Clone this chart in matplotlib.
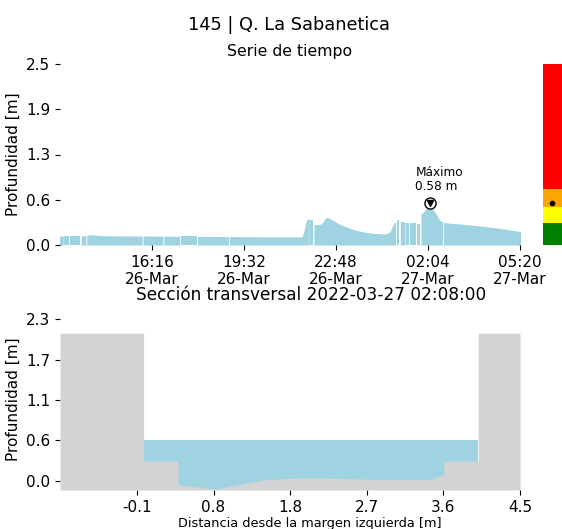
import numpy as np
import pandas as pd
import matplotlib
matplotlib.use("Agg")
import matplotlib.pyplot as plt
import matplotlib.dates as mdates

# ---------------- data ----------------
station_title = "145 | Q. La Sabanetica"
start_time = "2022-03-26 13:00"
step_minutes = 4

# water depth [m] every 4 minutes from 13:00 (26-Mar) to 05:20 (27-Mar); None = missing
depth = [
    0.12, 0.125, None, 0.125, 0.125, None, 0.125, 0.125, None, 0.125,
    0.125, None, 0.125, 0.13, None, 0.135, 0.14, 0.14, 0.14, 0.135,
    0.135, 0.13, 0.13, 0.13, 0.128, 0.128, 0.128, 0.127, 0.127, 0.127,
    0.126, 0.126, 0.126, 0.126, 0.125, 0.125, 0.125, 0.125, 0.125, 0.125,
    0.124, 0.124, 0.124, 0.124, None, 0.124, 0.124, 0.124, 0.124, 0.124,
    0.124, 0.124, 0.123, 0.123, 0.123, None, 0.122, 0.122, 0.122, 0.122,
    0.122, 0.121, 0.121, 0.121, None, 0.12, 0.12, 0.12, 0.12, 0.12,
    0.12, 0.12, 0.12, None, 0.119, 0.119, 0.119, 0.119, 0.118, 0.118,
    0.118, 0.118, 0.117, 0.117, 0.117, 0.117, 0.116, 0.116, 0.116, 0.116,
    None, 0.116, 0.116, 0.116, 0.116, 0.116, 0.116, 0.115, 0.115, 0.115,
    0.115, 0.115, 0.115, 0.115, 0.114, 0.114, 0.114, 0.114, 0.114, 0.114,
    0.114, 0.113, 0.113, 0.113, 0.113, 0.113, 0.113, 0.113, 0.112, 0.112,
    0.112, 0.112, 0.112, 0.112, 0.112, 0.112, 0.112, 0.112, 0.112, 0.115,
    0.2, 0.32, 0.36, None, 0.34, None, 0.28, 0.28, 0.285, 0.29,
    0.32, 0.36, 0.38, 0.375, 0.36, 0.345, 0.33, 0.315, 0.3, 0.285,
    0.275, 0.265, 0.255, 0.245, 0.235, 0.225, 0.218, 0.21, 0.203, 0.197,
    0.19, 0.185, 0.18, 0.176, 0.172, 0.168, 0.165, 0.162, 0.16, 0.158,
    0.156, 0.155, 0.154, 0.154, 0.16, 0.17, 0.19, 0.26, 0.31, None,
    0.34, None, 0.33, 0.32, None, 0.31, None, 0.31, None, 0.3,
    None, 0.29, None, 0.44, 0.47, 0.5, 0.55, 0.58, 0.54, 0.48,
    0.44, 0.4, 0.35, 0.33, None, 0.31, 0.305, 0.303, 0.3, 0.298,
    0.296, 0.294, 0.292, 0.29, 0.288, 0.285, 0.283, 0.28, 0.278, 0.275,
    0.272, 0.27, 0.267, 0.264, 0.261, 0.258, 0.255, 0.252, 0.249, 0.246,
    0.243, 0.24, 0.237, 0.234, 0.23, 0.226, 0.222, 0.218, 0.214, 0.21,
    0.206, 0.202, 0.198, 0.194, 0.19, 0.185,
]

ts_yticks = [0.0, 0.625, 1.25, 1.875, 2.5]
ts_yticklabels = ["0.0", "0.6", "1.3", "1.9", "2.5"]

# alert levels (colour bar)
level_bounds = [0.0, 0.31, 0.52, 0.78, 2.5]
level_colors = ["green", "yellow", "orange", "red"]

# cross-section bed profile
section_x = [-1.0, 0.0, 0.0, 0.41, 0.41, 0.86, 1.42, 1.84, 2.12, 2.91, 3.39, 3.59, 3.59, 4.0, 4.0, 4.5]
section_y = [2.1, 2.1, 0.28, 0.28, -0.06, -0.12, 0.01, 0.04, 0.04, 0.014, 0.014, 0.08, 0.28, 0.28, 2.1, 2.1]
water_x = [0.0, 4.0]

sec_xticks = [-0.08, 0.836, 1.752, 2.668, 3.584, 4.5]
sec_xticklabels = ["-0.1", "0.8", "1.8", "2.7", "3.6", "4.5"]
sec_yticks = [0.0, 0.575, 1.15, 1.725, 2.3]
sec_yticklabels = ["0.0", "0.6", "1.1", "1.7", "2.3"]

# ---------------- derived ----------------
n = len(depth)
times = pd.date_range(start_time, periods=n, freq=f"{step_minutes}min")
vals = np.array([np.nan if v is None else v for v in depth], dtype=float)
imax = int(np.nanargmax(vals))
tmax = times[imax]
vmax = vals[imax]

WATER = "#9fd3e1"
GRAY = "#d3d3d3"

fig = plt.figure(figsize=(5.62, 5.29), dpi=100)
W, H = 562, 529
ax1 = fig.add_axes([60 / W, 1 - 245 / H, 460 / W, 181 / H])
axc = fig.add_axes([542.5 / W, 1 - 245 / H, 19 / W, 181 / H])
ax2 = fig.add_axes([60 / W, 1 - 490 / H, 460 / W, 182 / H])

fig.text(289 / W, 1 - 25 / H, station_title, ha="center", va="center", fontsize=12.8)

# ---- time series (filled area, broken at missing samples) ----
tnum = mdates.date2num(times)
ext = 3.0 / 1440.0  # each segment reaches 3 min past its end samples
valid = ~np.isnan(vals)
i = 0
while i < n:
    if not valid[i]:
        i += 1
        continue
    j = i
    while j + 1 < n and valid[j + 1]:
        j += 1
    xs = np.concatenate([[tnum[i] - ext], tnum[i:j + 1], [tnum[j] + ext]])
    ys = np.concatenate([[vals[i]], vals[i:j + 1], [vals[j]]])
    ax1.fill_between(xs, 0, ys, color=WATER, linewidth=0)
    i = j + 1
ax1.set_xlim(tnum[0], tnum[-1])
ax1.set_ylim(0, 2.5)
ax1.set_yticks(ts_yticks)
ax1.set_yticklabels(ts_yticklabels)
xt = np.linspace(tnum[0], tnum[-1], 6)[1:]
ax1.set_xticks(xt)
ax1.set_xticklabels([mdates.num2date(t).strftime("%H:%M\n%d-%b") for t in xt])
ax1.set_ylabel("Profundidad [m]", fontsize=11)
ax1.set_title("Serie de tiempo", fontsize=11.3)
ax1.tick_params(labelsize=11)
for s in ax1.spines.values():
    s.set_visible(False)
ax1.plot([tnum[imax]], [vmax], marker="o", ms=8, mfc="white", mec="black", mew=1, zorder=5)
ax1.plot([tnum[imax]], [vmax], marker="v", ms=4.5, color="black", zorder=6)
ax1.annotate(f"Máximo\n{vmax:.2f} m", xy=(tnum[imax], vmax), xytext=(-10.5, 7),
             textcoords="offset points", ha="left", va="bottom", fontsize=8.7,
             linespacing=1.1)

# ---- colour bar of levels ----
for lo, hi, c in zip(level_bounds[:-1], level_bounds[1:], level_colors):
    axc.bar([0.5], [hi - lo], bottom=[lo], width=1.0, color=c, linewidth=0)
axc.plot([0.5], [vmax], "o", color="black", ms=3)
axc.set_xlim(0, 1)
axc.set_ylim(0, 2.5)
axc.axis("off")

# ---- cross section ----
ylo, yhi = -0.132, 2.46
ax2.fill_between(water_x, [ylo, ylo], [vmax, vmax], color=WATER, linewidth=0, zorder=1)
ax2.fill_between(section_x, ylo, section_y, color=GRAY, linewidth=0, zorder=2)
ax2.set_xlim(-1.0, 4.5)
ax2.set_ylim(ylo, yhi)
ax2.set_xticks(sec_xticks)
ax2.set_xticklabels(sec_xticklabels)
ax2.set_yticks(sec_yticks)
ax2.set_yticklabels(sec_yticklabels)
ax2.tick_params(labelsize=11)
ax2.set_ylabel("Profundidad [m]", fontsize=11)
ax2.set_xlabel("Distancia desde la margen izquierda [m]", fontsize=9.3, labelpad=1)
ax2.xaxis.set_label_coords((310 - 60) / 460, -(523 - 490) / 182)
ax2.xaxis.label.set_va("center")
ax2.set_title(f"Sección transversal {tmax.strftime('%Y-%m-%d %H:%M:%S')}", fontsize=12.2,
              x=(311 - 60) / 460)
for s in ax2.spines.values():
    s.set_visible(False)

fig.savefig("out.png", dpi=100)
